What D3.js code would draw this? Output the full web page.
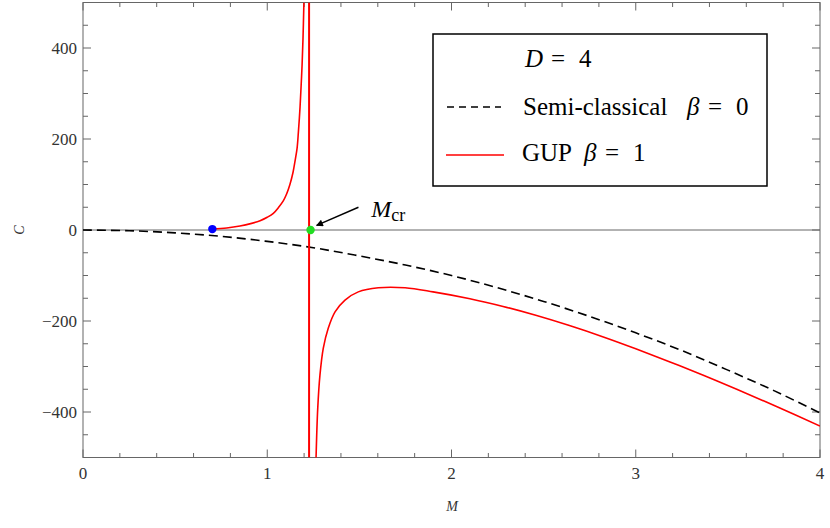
<!DOCTYPE html>
<html>
<head>
<meta charset="utf-8">
<script src="https://cdn.jsdelivr.net/npm/d3@7"></script>
<style>
  body { margin: 0; background: #fff; }
  svg { display: block; }
  svg text { font-family: "Liberation Serif", "Times New Roman", serif; }
</style>
</head>
<body>
<svg id="chart" width="830" height="528"></svg>
<script>
"use strict";

// semi-classical, beta = 0
const semiM = [0, 0.25, 0.5, 0.75, 1, 1.25, 1.5, 1.75, 2, 2.25, 2.5, 2.75, 3, 3.25, 3.5, 3.75, 4];
const semiC = [0, -1.6, -6.3, -14, -25, -39, -57, -77, -100, -127, -157, -190, -226, -265, -308, -353, -402];

// GUP beta = 1, branch below M_cr
const gupLowM = [0.702, 0.78, 0.852, 0.91, 0.961, 1.0, 1.033, 1.06, 1.087, 1.105, 1.123, 1.14, 1.151, 1.162, 1.169, 1.178, 1.184, 1.189, 1.194, 1.199];
const gupLowC = [2, 4.5, 8.8, 14, 20.5, 28, 36.6, 49, 64, 79, 100, 127, 152, 180, 215, 270, 318, 362, 420, 500];

// GUP beta = 1, branch above M_cr
const gupHighM = [1.2646, 1.274, 1.286, 1.304, 1.331, 1.368, 1.422, 1.494, 1.603, 1.748, 1.9, 2.1, 2.28, 2.462, 2.64, 2.824, 3.0, 3.186, 3.37, 3.548, 3.77, 4.0];
const gupHighC = [-505, -392, -319, -260, -216, -180, -154, -136, -127, -127, -136, -151, -168, -188, -210, -235, -261, -290, -320, -350, -389, -431];

const mMin = [0.702, 2];     // blue point
const mCrLine = 1.227;       // red vertical line
const mCrPoint = [1.235, 0]; // green point

const xTicks = [0, 1, 2, 3, 4];
const yTicks = [-400, -200, 0, 200, 400];

const legendRows = ["Semi-classical", "GUP"];

const svg = d3.select("#chart");
const pLeft = 83, pRight = 820, pTop = 2.5, pBottom = 457.5;

const x = d3.scaleLinear().domain([0, 4]).range([pLeft, pRight]);
const y = d3.scaleLinear().domain([-500, 500]).range([pBottom, pTop]);

const frameColor = "#666";
const serif = "Liberation Serif, Times New Roman, serif";

// clip
svg.append("clipPath").attr("id", "clip")
  .append("rect")
  .attr("x", pLeft).attr("y", pTop)
  .attr("width", pRight - pLeft).attr("height", pBottom - pTop);

// ticks (inside, on all four sides)
const xMinor = d3.range(0, 4.001, 0.2);
const yMinor = d3.range(-500, 500.1, 50);
const ticks = svg.append("g").attr("stroke", frameColor).attr("stroke-width", 1);
xMinor.forEach((v) => {
  const major = Math.abs(v - Math.round(v)) < 1e-6;
  const len = major ? 8 : 4.5;
  ticks.append("line").attr("x1", x(v)).attr("x2", x(v)).attr("y1", pBottom).attr("y2", pBottom - len);
  ticks.append("line").attr("x1", x(v)).attr("x2", x(v)).attr("y1", pTop).attr("y2", pTop + len);
});
yMinor.forEach((v) => {
  const major = v % 200 === 0;
  const len = major ? 8 : 5;
  ticks.append("line").attr("y1", y(v)).attr("y2", y(v)).attr("x1", pLeft).attr("x2", pLeft + len);
  ticks.append("line").attr("y1", y(v)).attr("y2", y(v)).attr("x1", pRight).attr("x2", pRight - len);
});

// zero axis
svg.append("line")
  .attr("x1", pLeft).attr("x2", pRight)
  .attr("y1", y(0)).attr("y2", y(0))
  .attr("stroke", frameColor).attr("stroke-width", 1);

// frame
svg.append("rect")
  .attr("x", pLeft).attr("y", pTop)
  .attr("width", pRight - pLeft).attr("height", pBottom - pTop)
  .attr("fill", "none").attr("stroke", frameColor).attr("stroke-width", 1);

// tick labels
svg.append("g").selectAll("text").data(xTicks).join("text")
  .attr("x", (d) => x(d)).attr("y", 479)
  .attr("text-anchor", "middle")
  .attr("font-family", serif)
  .attr("font-size", 17).attr("fill", "#333")
  .text((d) => d);

svg.append("g").selectAll("text").data(yTicks).join("text")
  .attr("x", 77).attr("y", (d) => y(d) + 5.5)
  .attr("text-anchor", "end")
  .attr("font-family", serif)
  .attr("font-size", 17).attr("fill", "#333")
  .text((d) => (d < 0 ? "\u2212" + Math.abs(d) : d));

// axis labels
svg.append("text")
  .attr("x", 452).attr("y", 511)
  .attr("text-anchor", "middle")
  .attr("font-family", serif)
  .attr("font-size", 14).attr("font-style", "italic").attr("fill", "#333")
  .text("M");
svg.append("text")
  .attr("transform", "translate(24,230) rotate(-90)")
  .attr("text-anchor", "middle")
  .attr("font-family", serif)
  .attr("font-size", 14).attr("font-style", "italic").attr("fill", "#333")
  .text("C");

// curves
const line = d3.line().x((d) => x(d[0])).y((d) => y(d[1])).curve(d3.curveCatmullRom.alpha(0.5));
const plot = svg.append("g").attr("clip-path", "url(#clip)");

plot.append("path")
  .datum(d3.zip(semiM, semiC))
  .attr("d", line)
  .attr("fill", "none").attr("stroke", "#000")
  .attr("stroke-width", 1.6).attr("stroke-dasharray", "9,5");

plot.append("path")
  .datum(d3.zip(gupLowM, gupLowC))
  .attr("d", line)
  .attr("fill", "none").attr("stroke", "#f00").attr("stroke-width", 1.6);

plot.append("path")
  .datum(d3.zip(gupHighM, gupHighC))
  .attr("d", line)
  .attr("fill", "none").attr("stroke", "#f00").attr("stroke-width", 1.6);

plot.append("line")
  .attr("x1", x(mCrLine)).attr("x2", x(mCrLine))
  .attr("y1", pTop).attr("y2", pBottom)
  .attr("stroke", "#f00").attr("stroke-width", 2);

// points
svg.append("circle")
  .attr("cx", x(mMin[0])).attr("cy", y(mMin[1])).attr("r", 4.2)
  .attr("fill", "#0000ff");
svg.append("circle")
  .attr("cx", x(mCrPoint[0])).attr("cy", y(mCrPoint[1])).attr("r", 4.2)
  .attr("fill", "#22dd22");

// M_cr annotation
const arrowFrom = [1.495, 50], arrowTo = [1.268, 10];
svg.append("defs").append("marker")
  .attr("id", "arrow").attr("viewBox", "0 0 10 10")
  .attr("refX", 9).attr("refY", 5)
  .attr("markerWidth", 8).attr("markerHeight", 7)
  .attr("markerUnits", "userSpaceOnUse")
  .attr("orient", "auto")
  .append("path").attr("d", "M0,0 L10,5 L0,10 Z").attr("fill", "#000");
svg.append("line")
  .attr("x1", x(arrowFrom[0])).attr("y1", y(arrowFrom[1]))
  .attr("x2", x(arrowTo[0])).attr("y2", y(arrowTo[1]))
  .attr("stroke", "#000").attr("stroke-width", 1.4)
  .attr("marker-end", "url(#arrow)");

const mcr = svg.append("text")
  .attr("x", x(1.565)).attr("y", y(29))
  .attr("font-family", serif)
  .attr("font-size", 24).attr("fill", "#000");
mcr.append("tspan").attr("font-style", "italic").text("M");
mcr.append("tspan").attr("font-size", 18).attr("dy", 4).text("cr");

// legend
const legend = svg.append("g").attr("font-family", serif).attr("font-size", 25);
legend.append("rect")
  .attr("x", 433).attr("y", 34)
  .attr("width", 334).attr("height", 152)
  .attr("fill", "#fff").attr("stroke", "#000").attr("stroke-width", 1.5);

function mathRow(yPos, parts) {
  const t = legend.append("text").attr("y", yPos);
  parts.forEach((p) => {
    const s = t.append("tspan").attr("x", p[0]).text(p[1]);
    if (p[2]) s.attr("font-style", "italic");
  });
}

mathRow(67, [[525, "D", true], [551, "="], [579, "4"]]);

legend.append("line")
  .attr("x1", 447).attr("x2", 501).attr("y1", 107).attr("y2", 107)
  .attr("stroke", "#000").attr("stroke-width", 1.3).attr("stroke-dasharray", "7,5");
mathRow(115, [[523, legendRows[0]], [687, "\u03b2", true], [708, "="], [736, "0"]]);

legend.append("line")
  .attr("x1", 446).attr("x2", 504).attr("y1", 155).attr("y2", 155)
  .attr("stroke", "#f00").attr("stroke-width", 1.3);
mathRow(161, [[522, legendRows[1]], [584, "\u03b2", true], [605, "="], [633, "1"]]);
</script>
</body>
</html>
